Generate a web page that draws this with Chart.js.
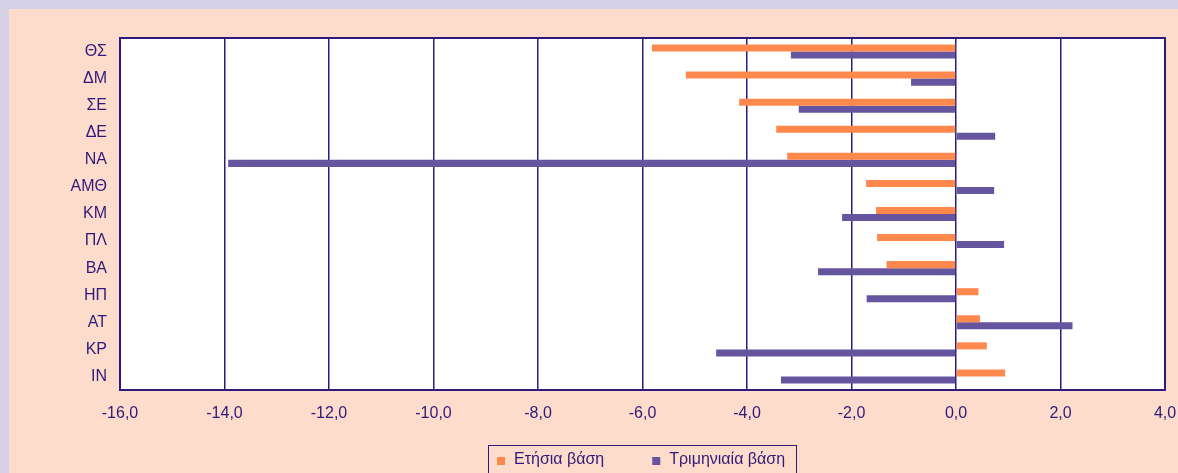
<!DOCTYPE html>
<html lang="el">
<head>
    <meta charset="UTF-8">
    <title>Περιφέρειες</title>
    <script src="https://cdn.jsdelivr.net/npm/chart.js"></script>
    <style>
        html, body { margin: 0; padding: 0; overflow: hidden; background: #d4d0e6; }
        .painel { position: absolute; left: 9px; top: 9px; width: 1169px; height: 490px; background: #fedccb; }
    </style>
</head>
<body>
<div class="painel">
    <canvas id="myChart" width="1169" height="490"></canvas>
</div>

<script>
    // dados
    var categorias = ['ΘΣ', 'ΔΜ', 'ΣΕ', 'ΔΕ', 'ΝΑ', 'ΑΜΘ', 'ΚΜ', 'ΠΛ', 'ΒΑ', 'ΗΠ', 'ΑΤ', 'ΚΡ', 'ΙΝ'];
    var etisia = [-5.82, -5.17, -4.15, -3.44, -3.23, -1.72, -1.53, -1.51, -1.33, 0.43, 0.46, 0.59, 0.94];
    var triminiaia = [-3.16, -0.86, -3.01, 0.75, -13.93, 0.73, -2.18, 0.92, -2.64, -1.71, 2.23, -4.59, -3.35];
    var nomesSeries = ['Ετήσια βάση', 'Τριμηνιαία βάση'];

    var azul = '#2e1a7a';
    var familia = "'Liberation Sans', Arial, sans-serif";
    var fonte = { family: familia, size: 16 };

    // fundo branco + moldura da área do gráfico
    const moldura = {
        id: 'moldura',
        beforeDraw(chart) {
            const a = chart.chartArea;
            const ctx = chart.ctx;
            ctx.save();
            ctx.fillStyle = '#ffffff';
            ctx.fillRect(a.left, a.top, a.right - a.left, a.bottom - a.top);
            ctx.restore();
        },
        afterDraw(chart) {
            const a = chart.chartArea;
            const ctx = chart.ctx;
            ctx.save();
            ctx.strokeStyle = azul;
            ctx.lineWidth = 2;
            ctx.strokeRect(a.left, a.top, a.right - a.left, a.bottom - a.top);
            ctx.restore();
        }
    };

    // legenda desenhada à mão (caixa com borda, centrada na área do gráfico)
    const legenda = {
        id: 'legenda',
        afterDraw(chart) {
            const a = chart.chartArea;
            const ctx = chart.ctx;
            const ds = chart.data.datasets;
            const quad = 8, gap = 9, entre = 48;
            ctx.save();
            ctx.font = '16px ' + familia;
            let larguras = ds.map(d => ctx.measureText(d.label).width);
            let total = 0;
            larguras.forEach((w, i) => { total += quad + gap + w + (i < larguras.length - 1 ? entre : 0); });
            const boxW = total + 9 + 11;
            const boxX = Math.round((a.left + a.right) / 2 - boxW / 2);
            const boxY = a.bottom + 55;
            ctx.strokeStyle = azul;
            ctx.lineWidth = 1;
            ctx.strokeRect(boxX + 0.5, boxY + 0.5, Math.round(boxW), 100);

            let x = boxX + 9;
            const yc = boxY + 16;
            ds.forEach((d, i) => {
                ctx.fillStyle = d.backgroundColor;
                ctx.fillRect(x, yc - quad / 2, quad, quad);
                x += quad + gap;
                ctx.fillStyle = azul;
                ctx.textBaseline = 'middle';
                ctx.fillText(d.label, x, yc - 1);
                x += larguras[i] + entre;
            });
            ctx.restore();
        }
    };

    let myChart = new Chart(document.getElementById('myChart'), {
        type: 'bar',
        data: {
            labels: categorias,
            datasets: [{
                label: nomesSeries[0],
                data: etisia,
                backgroundColor: '#ff884d',
                borderWidth: 0,
                categoryPercentage: 0.52,
                barPercentage: 1
            }, {
                label: nomesSeries[1],
                data: triminiaia,
                backgroundColor: '#65559e',
                borderWidth: 0,
                categoryPercentage: 0.52,
                barPercentage: 1
            }]
        },
        options: {
            indexAxis: 'y',
            responsive: false,
            animation: false,
            layout: { padding: { top: 29, right: 13, bottom: 69, left: 0 } },
            scales: {
                x: {
                    min: -16,
                    max: 4,
                    afterFit(scale) {
                        scale.height = 40;
                        scale.paddingLeft = 0;
                        scale.paddingRight = 0;
                    },
                    ticks: {
                        stepSize: 2,
                        padding: 14,
                        maxRotation: 0,
                        color: azul,
                        font: fonte,
                        callback: v => v.toFixed(1).replace('.', ',')
                    },
                    grid: { color: azul, lineWidth: 1.5, drawTicks: false },
                    border: { display: false }
                },
                y: {
                    afterFit(scale) { scale.width = 111; },
                    ticks: { padding: 13, color: azul, font: fonte, autoSkip: false },
                    grid: { display: false, drawTicks: false },
                    border: { display: false }
                }
            },
            plugins: {
                legend: { display: false },
                tooltip: { enabled: false }
            }
        },
        plugins: [moldura, legenda]
    });
</script>
</body>
</html>
